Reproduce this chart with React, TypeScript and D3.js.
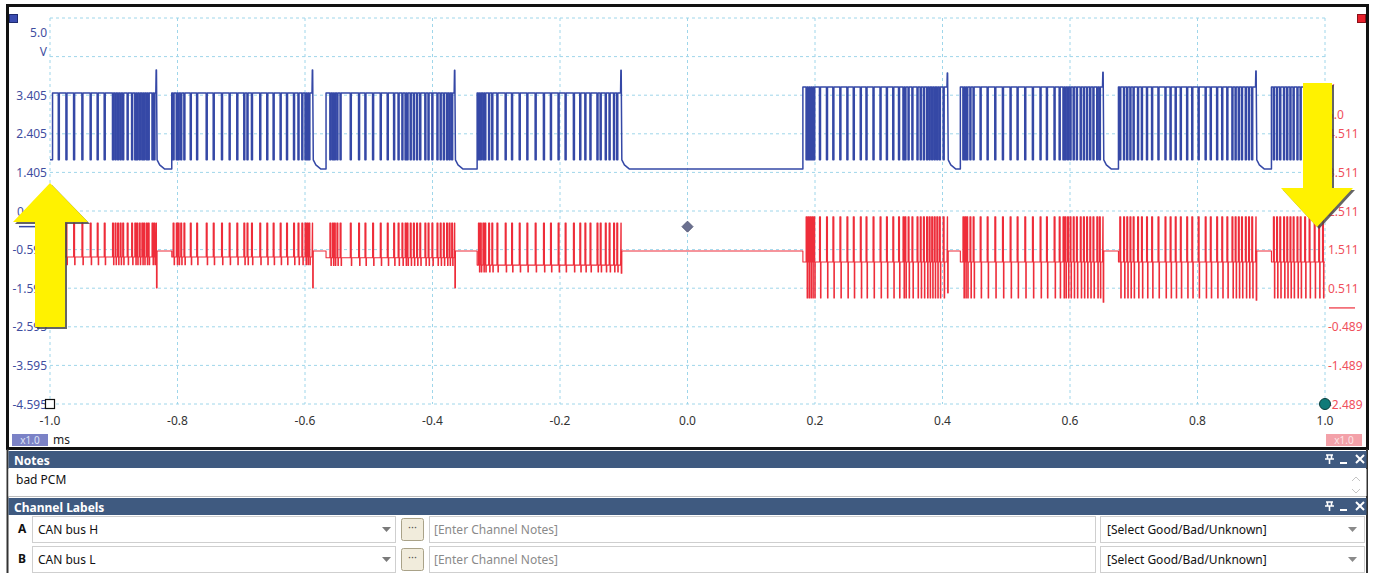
import * as d3 from "d3";

const W = 1377;
const H = 573;

// time axis, in µs
const timeTicks = [-1000, -800, -600, -400, -200, 0, 200, 400, 600, 800, 1000];
const timeTickLabels = ["-1.0", "-0.8", "-0.6", "-0.4", "-0.2", "0.0", "0.2", "0.4", "0.6", "0.8", "1.0"];

// channel A (left, blue) axis
const gridVoltsA = [5.405, 4.405, 3.405, 2.405, 1.405, 0.405, -0.595, -1.595, -2.595, -3.595, -4.595];
const tickVoltsA = [3.405, 2.405, 1.405, 0.405, -0.595, -1.595, -2.595, -3.595, -4.595];
const tickLabelsA = ["3.405", "2.405", "1.405", "0", "-0.595", "-1.595", "-2.595", "-3.595", "-4.595"];

// channel B (right, red) axis
const tickVoltsB = [4.511, 3.511, 2.511, 1.511, 0.511, -0.489, -1.489, -2.489];
const tickLabelsB = ["4.511", "3.511", "2.511", "1.511", "0.511", "-0.489", "-1.489", "-2.489"];

// CAN frames: start / end (µs) and the low pulses
const burstStart = [-996, -809, -567, -330, 181, 428, 676, 916];
const burstEnd = [-832, -587, -364, -103, 409, 653, 893, 1000];
const burstPulses: number[][] = [
  [-987, -975, -963, -950, -937, -926, -915, -902, -898, -894, -890, -886, -879, -872, -867, -864, -860, -856, -853, -849, -846, -840, -837],
  [-807, -802, -799, -795, -790, -780, -770, -755, -744, -731, -719, -707, -696, -691, -684, -671, -660, -650, -639, -629, -618, -611, -605, -600, -597, -594],
  [-561, -557, -554, -550, -545, -529, -516, -506, -494, -482, -471, -461, -454, -448, -443, -440, -435, -430, -425, -420, -412, -407, -401, -393, -388, -383, -378, -374, -370],
  [-328, -325, -321, -318, -312, -307, -299, -286, -276, -264, -252, -239, -226, -215, -203, -192, -179, -169, -161, -153, -142, -137, -129, -123, -116, -111],
  [186, 189, 192, 195, 198, 207, 218, 228, 239, 250, 260, 271, 280, 291, 302, 312, 322, 331, 338, 341, 346, 352, 360, 365, 370, 375, 379, 383, 387, 391, 395, 401],
  [432, 435, 438, 443, 448, 459, 470, 482, 494, 506, 517, 529, 541, 553, 563, 575, 583, 589, 592, 596, 600, 605, 610, 616, 621, 626, 631, 636, 642, 646],
  [678, 684, 689, 694, 699, 706, 712, 720, 728, 738, 749, 757, 765, 773, 783, 791, 801, 812, 820, 830, 838, 846, 854, 859, 864, 869, 875, 880, 885],
  [919, 924, 929, 935, 940, 945, 950, 956, 961, 968, 975, 983, 990, 996],
];

// channel A levels (V)
const highA = [3.46, 3.46, 3.46, 3.46, 3.62, 3.62, 3.62, 3.62];
const spikeA = [4.06, 4.06, 4.05, 4.05, 3.98, 4.0, 4.03, 3.62];
const pulseLowA = 1.73;
const idleA = 1.49;

// channel B levels (V)
const baseB = [1.32, 1.32, 1.3, 1.11, 1.19, 1.19, 1.19, 1.19];
const peakB = [2.2, 2.2, 2.2, 2.2, 2.36, 2.36, 2.36, 2.36];
const dipB = [1.12, 1.12, 1.1, 0.93, 0.26, 0.26, 0.26, 0.26];
const endDipB = [0.52, 0.52, 0.52, 0.9, 0.39, 0.15, 0.2, 0.26];
const idleB = 1.475;

const pw = 1.6; // pulse width µs

type Pt = [number, number];

function traceA(): Pt[] {
  const pts: Pt[] = [[-1000, pulseLowA]];
  burstStart.forEach((s, i) => {
    const e = burstEnd[i];
    const hi = highA[i];
    pts.push([s, i === 0 ? pulseLowA : idleA], [s, hi]);
    burstPulses[i].forEach((p) => {
      pts.push([p, hi], [p, pulseLowA], [p + pw, pulseLowA], [p + pw, hi]);
    });
    if (e < 1000) {
      pts.push([e - 2, hi], [e - 1.5, spikeA[i]], [e - 1, spikeA[i]], [e, pulseLowA], [e + 4, 1.6], [e + 12, idleA]);
      pts.push([burstStart[i + 1] ?? 1000, idleA]);
    } else {
      pts.push([1000, hi]);
    }
  });
  return pts;
}

function traceB(): Pt[] {
  const pts: Pt[] = [[-1000, idleB]];
  burstStart.forEach((s, i) => {
    const e = burstEnd[i];
    const b = baseB[i];
    pts.push([s, idleB], [s, b]);
    burstPulses[i].forEach((p) => {
      pts.push([p, b], [p, peakB[i]], [p + pw, peakB[i]], [p + pw, dipB[i]], [p + pw + 0.8, dipB[i]], [p + pw + 0.8, b]);
    });
    if (e < 1000) {
      pts.push([e - 2, b], [e - 1.5, peakB[i]], [e - 1, peakB[i]], [e - 1, endDipB[i]], [e, endDipB[i]], [e, idleB]);
      pts.push([burstStart[i + 1] ?? 1000, idleB]);
    } else {
      pts.push([1000, b]);
    }
  });
  return pts;
}

const font = "'Segoe UI', 'Noto Sans', sans-serif";

export default function App() {
  const x = d3.scaleLinear().domain([-1000, 1000]).range([50, 1325]);
  const yA = d3.scaleLinear().domain([-4.595, 5.405]).range([404, 18]);
  const yB = d3.scaleLinear().domain([-2.489, 7.511]).range([404, 18]);

  const lineA = d3.line<Pt>().x((d) => x(d[0])).y((d) => yA(d[1]));
  const lineB = d3.line<Pt>().x((d) => x(d[0])).y((d) => yB(d[1]));

  const blue = "#3548a6";
  const red = "#ee2d3a";
  const grid = "#9fd6ea";
  const header = "#3f5a80";

  const arrowUp = (tipX: number, tipY: number) => {
    const pts = [
      [tipX, tipY], [tipX + 38, tipY + 39], [tipX + 15, tipY + 39], [tipX + 15, tipY + 144],
      [tipX - 15, tipY + 144], [tipX - 15, tipY + 39], [tipX - 37, tipY + 39],
    ];
    return pts.map((p) => p.join(",")).join(" ");
  };
  const arrowDown = (tipX: number, tipY: number) => {
    const pts = [
      [tipX, tipY], [tipX + 36, tipY - 39], [tipX + 15, tipY - 39], [tipX + 15, tipY - 144],
      [tipX - 14, tipY - 144], [tipX - 14, tipY - 39], [tipX - 36, tipY - 39],
    ];
    return pts.map((p) => p.join(",")).join(" ");
  };

  const headerIcons = (cy: number) => (
    <g stroke="#fff" fill="none" strokeWidth={1.6}>
      <path d={`M1326,${cy - 5} h7 M1327.5,${cy - 5} v4 h4 v-4 M1325,${cy - 1} h9 M1329.5,${cy - 1} v5`} />
      <line x1={1340} x2={1347} y1={cy + 3} y2={cy + 3} strokeWidth={2} />
      <path d={`M1356,${cy - 5} L1364,${cy + 3} M1364,${cy - 5} L1356,${cy + 3}`} strokeWidth={2} />
    </g>
  );

  const row = (y0: number, letter: string, name: string) => (
    <g>
      <text x={18} y={y0 + 18} fontSize={12} fontWeight="bold" fill="#111">{letter}</text>
      <rect x={32.5} y={y0 + 1.5} width={363} height={26} fill="#fff" stroke="#cfcfcf" />
      <text x={38} y={y0 + 18.5} fontSize={12} fill="#111">{name}</text>
      <path d={`M382,${y0 + 12} h9 l-4.5,5 z`} fill="#7a7a7a" />
      <rect x={401.5} y={y0 + 3.5} width={22} height={22} rx={2} fill="#f1ecdc" stroke="#a9a288" />
      <text x={412.5} y={y0 + 16} fontSize={11} textAnchor="middle" fill="#555">···</text>
      <rect x={429.5} y={y0 + 1.5} width={666} height={26} fill="#fff" stroke="#cfcfcf" />
      <text x={434} y={y0 + 18.5} fontSize={12} fill="#8a8a8a">[Enter Channel Notes]</text>
      <rect x={1100.5} y={y0 + 1.5} width={264} height={26} fill="#fff" stroke="#cfcfcf" />
      <text x={1107} y={y0 + 18.5} fontSize={12} fill="#111">[Select Good/Bad/Unknown]</text>
      <path d={`M1348,${y0 + 12} h9 l-4.5,5 z`} fill="#8a8a8a" />
    </g>
  );

  return (
    <svg width={W} height={H} style={{ position: "absolute", left: 0, top: 0 }} fontFamily={font}>
      <rect width={W} height={H} fill="#fff" />
      <defs>
        <clipPath id="plot">
          <rect x={50} y={8} width={1275} height={440} />
        </clipPath>
      </defs>

      {/* grid */}
      <g stroke={grid} strokeWidth={1} strokeDasharray="3,3">
        {timeTicks.map((t) => (
          <line key={t} x1={x(t)} x2={x(t)} y1={18} y2={404} />
        ))}
        {gridVoltsA.map((v) => (
          <line key={v} x1={50} x2={1325} y1={yA(v)} y2={yA(v)} />
        ))}
      </g>

      {/* traces */}
      <g clipPath="url(#plot)" fill="none">
        <path d={lineB(traceB()) ?? ""} stroke={red} strokeWidth={1.1} strokeLinejoin="round" />
        <path d={lineA(traceA()) ?? ""} stroke={blue} strokeWidth={1.5} strokeLinejoin="round" />
      </g>

      {/* left axis */}
      <g fill="#3f4ea0" fontSize={12} textAnchor="end">
        <text x={47} y={37}>5.0</text>
        <text x={47} y={56}>V</text>
        {tickVoltsA.map((v, i) =>
          tickLabelsA[i] === "0" ? (
            <text key={v} x={17} y={yA(v) + 4.5} textAnchor="start">{tickLabelsA[i]}</text>
          ) : (
            <text key={v} x={47} y={yA(v) + 4.5}>{tickLabelsA[i]}</text>
          )
        )}
      </g>
      <line x1={19} x2={42} y1={yA(0)} y2={yA(0)} stroke={blue} strokeWidth={1.5} />

      {/* right axis */}
      <g fill="#f0505c" fontSize={12}>
        <text x={1327} y={93}>V</text>
        <text x={1327} y={119}>5.0</text>
        {tickVoltsB.map((v, i) => (
          <text key={v} x={1328} y={yB(v) + 4.5}>{tickLabelsB[i]}</text>
        ))}
      </g>
      <line x1={1329} x2={1355} y1={yB(0)} y2={yB(0)} stroke={red} strokeWidth={1.2} />

      {/* time axis labels */}
      <g fill="#333" fontSize={12} textAnchor="middle">
        {timeTicks.map((t, i) => (
          <text key={t} x={x(t)} y={425}>{timeTickLabels[i]}</text>
        ))}
      </g>

      {/* markers */}
      <rect x={9.5} y={14.5} width={8} height={8} fill="#3a4cb0" stroke="#1e2a70" />
      <rect x={1357.5} y={14.5} width={8} height={8} fill="#e8202c" stroke="#8a1018" />
      <rect x={x(-1000) - 4.5} y={yA(-4.595) - 4.5} width={9} height={9} fill="#fff" stroke="#111" strokeWidth={1.2} />
      <circle cx={x(1000)} cy={yB(-2.489)} r={5.5} fill="#107a78" stroke="#0b3b3a" strokeWidth={1} />
      <path
        d={`M${x(0)},${yA(0) - 5.5} l5.5,5.5 l-5.5,5.5 l-5.5,-5.5 z`}
        fill="#6b7090"
        stroke="#565b78"
      />

      {/* scale badges */}
      <rect x={12} y={434} width={36} height={12} fill="#7b82c6" />
      <text x={30} y={443.5} fontSize={10} fill="#dfe2f6" textAnchor="middle">x1.0</text>
      <text x={53} y={444} fontSize={12} fill="#222">ms</text>
      <rect x={1326} y={434} width={36} height={12} fill="#f3a1a9" />
      <text x={1344} y={443.5} fontSize={10} fill="#fde4e6" textAnchor="middle">x1.0</text>

      {/* yellow arrows */}
      <polygon points={arrowUp(52, 185)} fill="#4a4a4a" opacity={0.85} />
      <polygon points={arrowUp(50, 183)} fill="#fff200" />
      <polygon points={arrowDown(1319, 229)} fill="#4a4a4a" opacity={0.85} />
      <polygon points={arrowDown(1317, 227)} fill="#fff200" />

      {/* chart frame */}
      <rect x={7.5} y={5.5} width={1360} height={443} fill="none" stroke="#111" strokeWidth={3} />

      {/* lower panels */}
      <line x1={7.5} x2={7.5} y1={449} y2={H} stroke="#333" strokeWidth={2} />
      <line x1={1367} x2={1367} y1={449} y2={H} stroke="#333" strokeWidth={2} />
      <rect x={8.5} y={451} width={1358} height={17} fill={header} />
      <text x={14} y={465} fontSize={12} fontWeight="bold" fill="#fff">Notes</text>
      {headerIcons(460)}
      <rect x={8.5} y={469} width={1358} height={27} fill="#fff" />
      <text x={16} y={484} fontSize={12} fill="#111">bad PCM</text>
      <path d="M1352,481 l4,-4 l4,4 M1352,489 l4,4 l4,-4" fill="none" stroke="#c4c4c4" strokeWidth={1} />
      <line x1={8.5} x2={1366} y1={496.5} y2={496.5} stroke="#bdbdbd" />
      <rect x={8.5} y={498} width={1358} height={17} fill={header} />
      <text x={14} y={512} fontSize={12} fontWeight="bold" fill="#fff">Channel Labels</text>
      {headerIcons(507)}
      {row(515, "A", "CAN bus H")}
      {row(545, "B", "CAN bus L")}
    </svg>
  );
}
